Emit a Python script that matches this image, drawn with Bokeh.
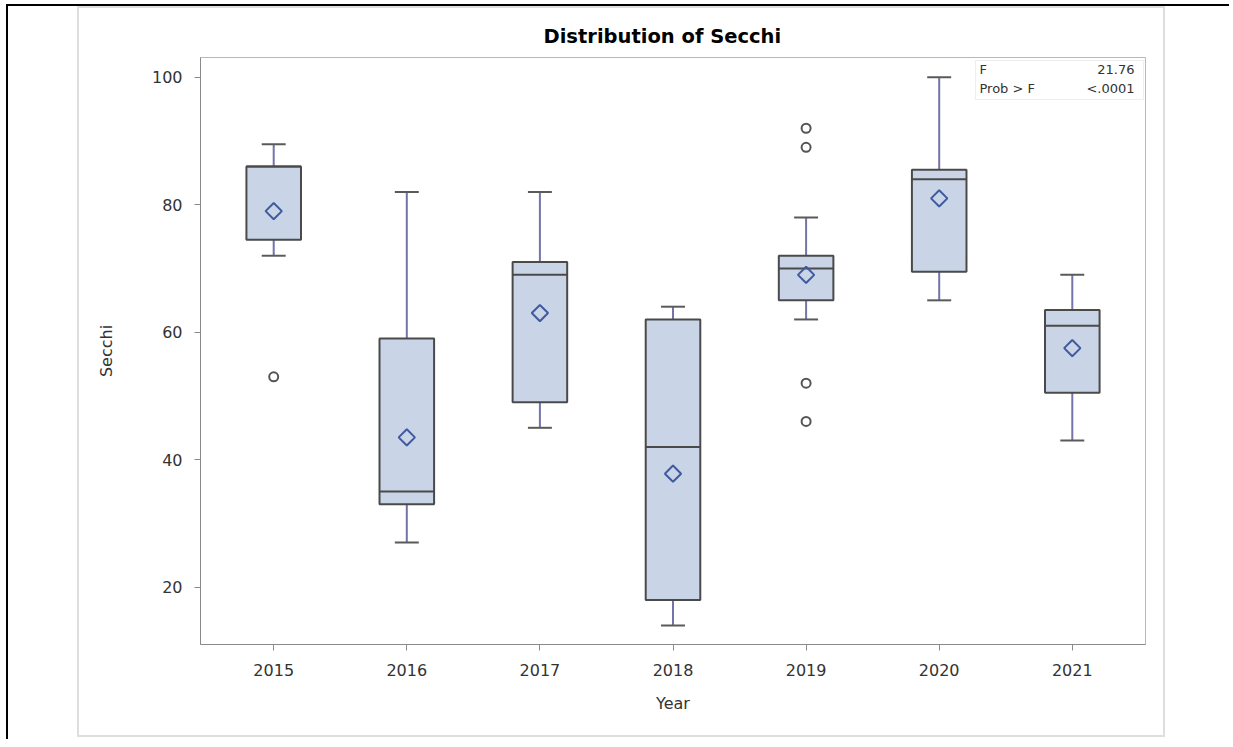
import math
from bokeh.plotting import figure
from bokeh.models import (Range1d, FixedTicker, BoxAnnotation, Label, ColumnDataSource,
                          InlineStyleSheet)
from bokeh.embed import file_html
from bokeh.resources import INLINE

# ---- data ----
years = ["2015", "2016", "2017", "2018", "2019", "2020", "2021"]
q1 = [74.5, 33, 49, 18, 65, 69.5, 50.5]
median = [86, 35, 69, 42, 70, 84, 61]
q3 = [86, 59, 71, 62, 72, 85.5, 63.5]
whisker_low = [72, 27, 45, 14, 62, 65, 43]
whisker_high = [89.5, 82, 82, 64, 78, 100, 69]
means = [79, 43.5, 63, 37.8, 69, 81, 57.5]
outlier_years = ["2015", "2019", "2019", "2019", "2019"]
outlier_values = [53, 92, 89, 52, 46]
stat_names = ["F", "Prob > F"]
stat_values = ["21.76", "<.0001"]
y_ticks = [20, 40, 60, 80, 100]

FONT = "DejaVu Sans"
BOX_W = 0.41
CAP_W = 0.18

xs = list(range(len(years)))
src = ColumnDataSource(dict(
    x=xs, q1=q1, med=median, q3=q3, lo=whisker_low, hi=whisker_high, mean=means,
    capl=[x - CAP_W / 2 for x in xs], capr=[x + CAP_W / 2 for x in xs],
    boxl=[x - BOX_W / 2 for x in xs], boxr=[x + BOX_W / 2 for x in xs],
))
osrc = ColumnDataSource(dict(x=[years.index(y) for y in outlier_years], y=outlier_values))

frame_css = InlineStyleSheet(css="""
:host { position: relative; }
:host::after {
  content: "";
  position: absolute;
  left: 69px; top: 0px; width: 1084px; height: 727px;
  border: 2px solid #dedede;
  pointer-events: none;
}
""")

W, H = 1223, 735
p = figure(width=W, height=H, output_backend="svg", toolbar_location=None,
           x_range=Range1d(-0.55, len(years) - 1 + 0.55), y_range=Range1d(11.0, 103.1),
           min_border_left=192, min_border_right=W - 192 - 945,
           min_border_top=51, min_border_bottom=H - 51 - 587,
           title="Distribution of Secchi",
           styles={"margin-left": "6px", "margin-top": "4px",
                   "border-left": "2px solid black", "border-top": "2px solid black"},
           stylesheets=[frame_css])
p.title.align = "left"
p.title.offset = 343
p.title.text_font = FONT
p.title.text_font_size = "19.5px"
p.title.text_font_style = "bold"
p.title.text_color = "#000000"
p.title.standoff = 20

p.xgrid.visible = False
p.ygrid.visible = False
p.outline_line_color = "#b8b8b8"
p.background_fill_color = "white"
p.border_fill_color = "white"

for ax in (p.xaxis[0], p.yaxis[0]):
    ax.axis_line_color = "#8a8a8a"
    ax.major_tick_line_color = "#8a8a8a"
    ax.major_tick_out = 6
    ax.major_tick_in = 0
    ax.minor_tick_line_color = None
    ax.major_label_text_font = FONT
    ax.major_label_text_font_size = "16px"
    ax.major_label_text_color = "#333333"
    ax.axis_label_text_font = FONT
    ax.axis_label_text_font_size = "16px"
    ax.axis_label_text_font_style = "normal"
    ax.axis_label_text_color = "#333333"

p.xaxis.ticker = FixedTicker(ticks=xs)
p.xaxis.major_label_overrides = {x: y for x, y in zip(xs, years)}
p.xaxis.axis_label = "Year"
p.xaxis.major_label_standoff = 13
p.xaxis.axis_label_standoff = 15
p.yaxis.ticker = FixedTicker(ticks=y_ticks)
p.yaxis.axis_label = "Secchi"
p.yaxis.major_label_standoff = 12
p.yaxis.axis_label_standoff = 33

WHISK = "#7474aa"
EDGE = "#4a4a4a"
# whiskers
p.segment(x0="x", y0="q3", x1="x", y1="hi", source=src, line_color=WHISK, line_width=2)
p.segment(x0="x", y0="lo", x1="x", y1="q1", source=src, line_color=WHISK, line_width=2)
p.segment(x0="capl", y0="hi", x1="capr", y1="hi", source=src, line_color="#5a5a5a", line_width=2)
p.segment(x0="capl", y0="lo", x1="capr", y1="lo", source=src, line_color="#5a5a5a", line_width=2)
# boxes
p.vbar(x="x", width=BOX_W, bottom="q1", top="q3", source=src,
       fill_color="#c9d4e6", line_color=EDGE, line_width=2)
p.segment(x0="boxl", y0="med", x1="boxr", y1="med", source=src, line_color=EDGE, line_width=2)
# means (diamond = square rotated 45 degrees)
p.scatter(x="x", y="mean", source=src, marker="square", size=11.5, angle=math.pi / 4,
          fill_color=None, line_color="#3f5a9e", line_width=2)
# outliers
p.scatter(x="x", y="y", source=osrc, marker="circle", size=9,
          fill_color=None, line_color="#555555", line_width=2)

# inset statistics box (canvas units)
p.add_layout(BoxAnnotation(left=965, right=1133, top=52, bottom=91,
                           left_units="canvas", right_units="canvas",
                           top_units="canvas", bottom_units="canvas",
                           fill_color="white", fill_alpha=1, line_color="#c8c8c8", line_width=1))
for i, (nm, vl) in enumerate(zip(stat_names, stat_values)):
    yy = 61 + 19 * i
    p.add_layout(Label(x=969, y=yy, x_units="canvas", y_units="canvas", text=nm,
                       text_font=FONT, text_font_size="13px", text_color="#333333",
                       text_baseline="middle", text_align="left"))
    p.add_layout(Label(x=1124, y=yy, x_units="canvas", y_units="canvas", text=vl,
                       text_font=FONT, text_font_size="13px", text_color="#333333",
                       text_baseline="middle", text_align="right"))

open("out.html", "w").write(file_html(p, INLINE))
